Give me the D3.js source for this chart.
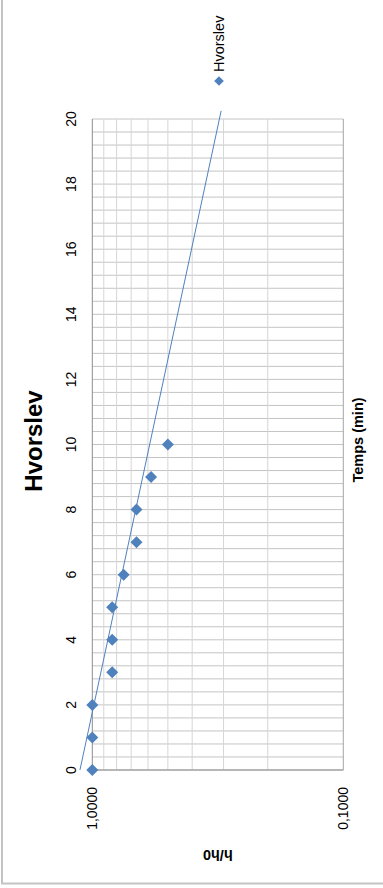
<!DOCTYPE html>
<html>
<head>
<meta charset="utf-8">
<script src="https://cdn.jsdelivr.net/npm/d3@7"></script>
<style>
  html, body { margin: 0; padding: 0; background: #ffffff; }
  svg { display: block; }
  text { font-family: "Liberation Sans", Arial, sans-serif; fill: #000; }
</style>
</head>
<body>
<svg id="chart" width="383" height="888"></svg>
<script>
// Measured time (min) and normalised head h/h0
const times = [0, 1, 2, 3, 4, 5, 6, 7, 8, 9, 10];
const ratios = [1, 1, 1, 0.8333, 0.8333, 0.8333, 0.75, 0.6667, 0.6667, 0.5833, 0.5];

// Exponential trendline, two end points (straight on the log axis)
const trendTimes = [0, 20.25];
const trendRatios = [1.12, 0.3067];

// Axis ticks and labels
const timeTicks = [0, 2, 4, 6, 8, 10, 12, 14, 16, 18, 20];
const timeGrid = d3.range(0, 20.0001, 0.4);
const ratioTicks = [1, 0.1];
const ratioTickLabels = ["1,0000", "0,1000"];
const ratioGrid = [0.9, 0.8, 0.7, 0.6, 0.5, 0.4, 0.3, 0.2];

const seriesName = "Hvorslev";
const chartTitle = "Hvorslev";
const timeTitle = "Temps (min)";
const ratioTitle = "h/h0";

const blue = "#4f81bd";
const svg = d3.select("#chart");

// Outer chart frame
svg.append("rect")
  .attr("x", 2).attr("y", -10)
  .attr("width", 500).attr("height", 893.5)
  .attr("fill", "none").attr("stroke", "#c3c3c3").attr("stroke-width", 2);

// The chart is laid out turned a quarter turn: time runs bottom -> top,
// h/h0 (log) runs left -> right from 1 down to 0.1.
const tScale = d3.scaleLinear().domain([0, 20]).range([770, 119]);
const vScale = d3.scaleLog().domain([1, 0.1]).range([92.3, 343.3]);
const x0 = vScale(1), x1 = vScale(0.1);
const y0 = tScale(0), y1 = tScale(20);

const grid = svg.append("g");
// time gridlines
grid.selectAll("line.tg").data(timeGrid).join("line")
  .attr("class", "tg")
  .attr("x1", x0).attr("x2", x1)
  .attr("y1", d => tScale(d)).attr("y2", d => tScale(d))
  .attr("stroke", "#c4c4c4").attr("stroke-width", 1);
// ratio minor gridlines
grid.selectAll("line.vg").data(ratioGrid).join("line")
  .attr("class", "vg")
  .attr("x1", d => vScale(d)).attr("x2", d => vScale(d))
  .attr("y1", y1).attr("y2", y0)
  .attr("stroke", "#d6d6d6").attr("stroke-width", 1);
// ratio major gridlines / axis lines
grid.selectAll("line.vm").data(ratioTicks).join("line")
  .attr("class", "vm")
  .attr("x1", d => vScale(d)).attr("x2", d => vScale(d))
  .attr("y1", y1).attr("y2", y0)
  .attr("stroke", d => d === 1 ? "#8c8c8c" : "#a6a6a6").attr("stroke-width", 1);
// time axis line (at t = 0)
grid.append("line")
  .attr("x1", x0).attr("x2", x1).attr("y1", y0).attr("y2", y0)
  .attr("stroke", "#8c8c8c").attr("stroke-width", 1);

// Time tick labels
svg.append("g").selectAll("text").data(timeTicks).join("text")
  .attr("transform", d => `translate(71,${tScale(d)}) rotate(-90)`)
  .attr("text-anchor", "middle").attr("dominant-baseline", "central")
  .attr("font-size", 14)
  .text(d => d);

// Ratio tick labels
svg.append("g").selectAll("text").data(ratioTicks).join("text")
  .attr("transform", d => `translate(${vScale(d)},787) rotate(-90)`)
  .attr("text-anchor", "end").attr("dominant-baseline", "central")
  .attr("font-size", 14)
  .text((d, i) => ratioTickLabels[i]);

// Trendline
const trend = trendTimes.map((t, i) => [t, trendRatios[i]]);
svg.append("path")
  .datum(trend)
  .attr("d", d3.line().x(d => vScale(d[1])).y(d => tScale(d[0])))
  .attr("fill", "none").attr("stroke", blue).attr("stroke-width", 1);

// Data markers (diamonds)
const diamond = r => `M0,${-r}L${r},0L0,${r}L${-r},0Z`;
svg.append("g").selectAll("path").data(times.map((t, i) => [t, ratios[i]])).join("path")
  .attr("transform", d => `translate(${vScale(d[1])},${tScale(d[0])})`)
  .attr("d", diamond(6))
  .attr("fill", blue);

// Chart title
svg.append("text")
  .attr("transform", "translate(33,441) rotate(-90)")
  .attr("text-anchor", "middle").attr("dominant-baseline", "central")
  .attr("font-size", 24).attr("font-weight", "bold")
  .text(chartTitle);

// Axis titles
svg.append("text")
  .attr("transform", "translate(358,440) rotate(-90)")
  .attr("text-anchor", "middle").attr("dominant-baseline", "central")
  .attr("font-size", 14.5).attr("font-weight", "bold")
  .text(timeTitle);

svg.append("text")
  .attr("transform", `translate(${(x0 + x1) / 2},855) rotate(180)`)
  .attr("text-anchor", "middle").attr("dominant-baseline", "central")
  .attr("font-size", 14.5).attr("font-weight", "bold")
  .text(ratioTitle);

// Legend
const legend = svg.append("g").attr("transform", "translate(219,0)");
legend.append("path")
  .attr("transform", "translate(0,81)")
  .attr("d", diamond(4.8))
  .attr("fill", blue);
legend.append("text")
  .attr("transform", "translate(-0.5,72) rotate(-90)")
  .attr("text-anchor", "start").attr("dominant-baseline", "central")
  .attr("font-size", 14.5)
  .text(seriesName);
</script>
</body>
</html>
